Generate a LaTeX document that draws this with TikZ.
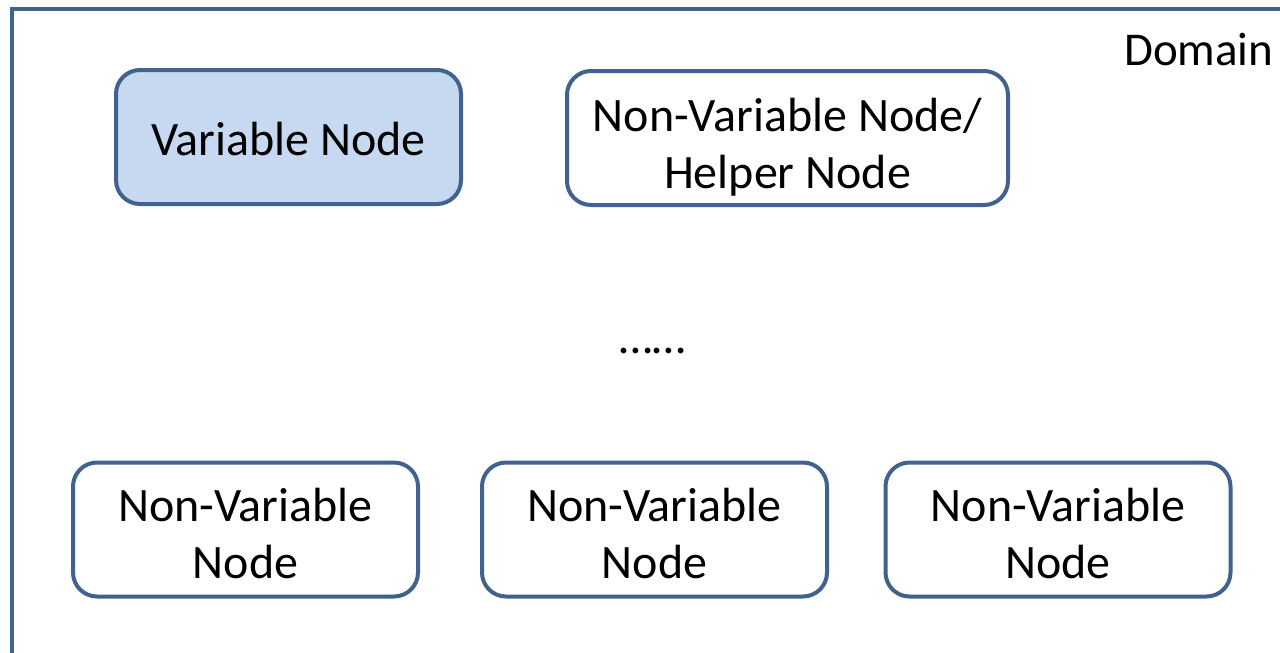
\documentclass[tikz,border=0pt]{standalone}
\usepackage{fontspec}
\setmainfont{Carlito}
\definecolor{edgeblue}{HTML}{41628E}
\definecolor{fillblue}{HTML}{C6D9F1}
% centred lines, set a few points (#1) lower than the box centre
\newcommand{\boxtext}[2][9pt]{\raisebox{-#1}[\height][\depth]{\begin{tabular}{@{}c@{}}#2\end{tabular}}}
\begin{document}
\begin{tikzpicture}[x=1pt,y=-1pt,
  nodebox/.style={draw=edgeblue, line width=4pt, rounded corners=24pt,
    fill=white, minimum width=#1, minimum height=134pt,
    font=\fontsize{48}{57}\selectfont, inner sep=0pt},
  nodebox/.default=345pt]
  \useasboundingbox (0,0) rectangle (1280,653);
  \begin{scope}
    \clip (0,0) rectangle (1280,653);
    % the domain frame runs past the right and bottom edges
    \draw[edgeblue, line width=4pt] (12,9) rectangle (1320,700);
  \end{scope}
  \node[anchor=base east, font=\fontsize{47}{50}\selectfont] (domain) at (1277,65) {Domain};

  \node[nodebox, fill=fillblue] (var) at (288.5,137) {\boxtext[7pt]{Variable Node}};
  \node[nodebox=441pt] (helper) at (787.5,138) {\boxtext[11pt]{Non-Variable Node/\\Helper Node}};

  \node[font=\fontsize{48}{50}\selectfont, anchor=base] (dots) at (653,353) {……};

  \node[nodebox] (nv1) at (245.5,529.5) {\boxtext{Non-Variable\\Node}};
  \node[nodebox] (nv2) at (654.5,529.5) {\boxtext{Non-Variable\\Node}};
  \node[nodebox] (nv3) at (1058,529.5) {\boxtext{Non-Variable\\Node}};
\end{tikzpicture}
\end{document}
